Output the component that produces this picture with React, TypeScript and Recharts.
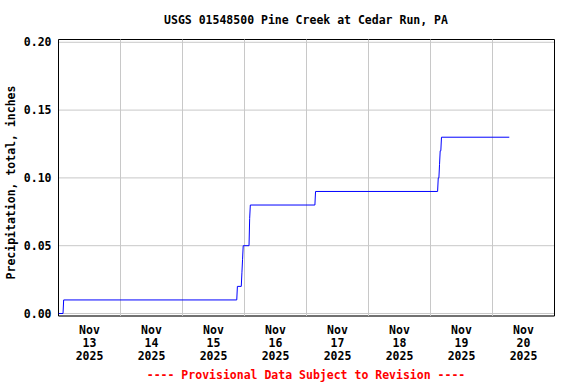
import React from 'react';
import { LineChart, Line, XAxis, YAxis, CartesianGrid, ReferenceLine, ReferenceArea } from 'recharts';

// Hours since Nov 13 2025 00:00 and cumulative precipitation (inches)
const hours = [0, 1.75, 2.0, 69.0, 69.25, 70.75, 71.0, 71.25, 71.5, 73.75, 74.0, 74.25, 99.25, 99.5, 146.75, 147.0, 147.25, 147.5, 147.75, 148.0, 148.25, 174.5];
const precip = [0, 0, 0.01, 0.01, 0.02, 0.02, 0.03, 0.04, 0.05, 0.05, 0.07, 0.08, 0.08, 0.09, 0.09, 0.10, 0.10, 0.11, 0.12, 0.12, 0.13, 0.13];

const dayLabels = ['13', '14', '15', '16', '17', '18', '19', '20'];
const monthLabel = 'Nov';
const yearLabel = '2025';
const yTicks = [0, 0.05, 0.1, 0.15, 0.2];
const dayTicks = dayLabels.map((_, i) => i * 24 + 12);
const dayBoundaries = [24, 48, 72, 96, 120, 144, 168];
const xDomain: [number, number] = [0, 192];
const yDomain: [number, number] = [-0.00184, 0.20206];

const title = 'USGS 01548500 Pine Creek at Cedar Run, PA';
const yTitle = 'Precipitation, total, inches';
const footer = '---- Provisional Data Subject to Revision ----';

const data = hours.map((t, i) => ({ t, v: precip[i] }));

const FONT = '"DejaVu Sans Mono", monospace';
const FS = 11.5;

const XTick = (props: any) => {
  const { x, y, payload } = props;
  const idx = dayTicks.indexOf(payload.value);
  return (
    <g>
      <text x={x} y={y + 18} textAnchor="middle" fontFamily={FONT} fontWeight="bold" fontSize={FS} fill="#000">{monthLabel}</text>
      <text x={x} y={y + 31} textAnchor="middle" fontFamily={FONT} fontWeight="bold" fontSize={FS} fill="#000">{dayLabels[idx]}</text>
      <text x={x} y={y + 44} textAnchor="middle" fontFamily={FONT} fontWeight="bold" fontSize={FS} fill="#000">{yearLabel}</text>
    </g>
  );
};

export default function App() {
  return (
    <div style={{ position: 'relative', width: 576, height: 384, background: '#fff' }}>
      <style>{'body{margin:0}'}</style>
      <LineChart
        width={576}
        height={384}
        data={data}
        margin={{ top: 39.5, right: 21.5, bottom: 18, left: 8.5 }}
      >
        <CartesianGrid vertical={false} stroke="#c8c8c8" />
        {dayBoundaries.map((d) => (
          <ReferenceLine key={d} x={d} stroke="#c8c8c8" strokeWidth={1} />
        ))}
        <XAxis
          dataKey="t"
          type="number"
          domain={xDomain}
          ticks={dayTicks}
          allowDataOverflow
          axisLine={false}
          tickLine={false}
          tickSize={0}
          tickMargin={0}
          height={50}
          interval={0}
          tick={<XTick />}
        />
        <YAxis
          type="number"
          domain={yDomain}
          ticks={yTicks}
          allowDataOverflow
          axisLine={false}
          tickLine={false}
          tickSize={0}
          tickMargin={7}
          width={50}
          interval={0}
          tickFormatter={(v: number) => v.toFixed(2)}
          tick={{ fontFamily: FONT, fontWeight: 'bold', fontSize: FS, fill: '#000' }}
        />
        <Line
          type="linear"
          dataKey="v"
          stroke="#0000ff"
          strokeWidth={1}
          dot={false}
          activeDot={false}
          isAnimationActive={false}
        />
        <ReferenceArea
          x1={xDomain[0]}
          x2={xDomain[1]}
          y1={yDomain[0]}
          y2={yDomain[1]}
          fill="none"
          fillOpacity={0}
          stroke="#000"
          strokeWidth={1}
          ifOverflow="visible"
        />
      </LineChart>
      <svg width={576} height={384} style={{ position: 'absolute', left: 0, top: 0, pointerEvents: 'none' }}>
        <text x={306} y={24} textAnchor="middle" fontFamily={FONT} fontWeight="bold" fontSize={FS} fill="#000">{title}</text>
        <text x={0} y={0} transform="translate(15,182.5) rotate(-90)" textAnchor="middle" fontFamily={FONT} fontWeight="bold" fontSize={FS} fill="#000">{yTitle}</text>
        <text x={306} y={379} textAnchor="middle" fontFamily={FONT} fontWeight="bold" fontSize={FS} fill="#ff0000">{footer}</text>
      </svg>
    </div>
  );
}
